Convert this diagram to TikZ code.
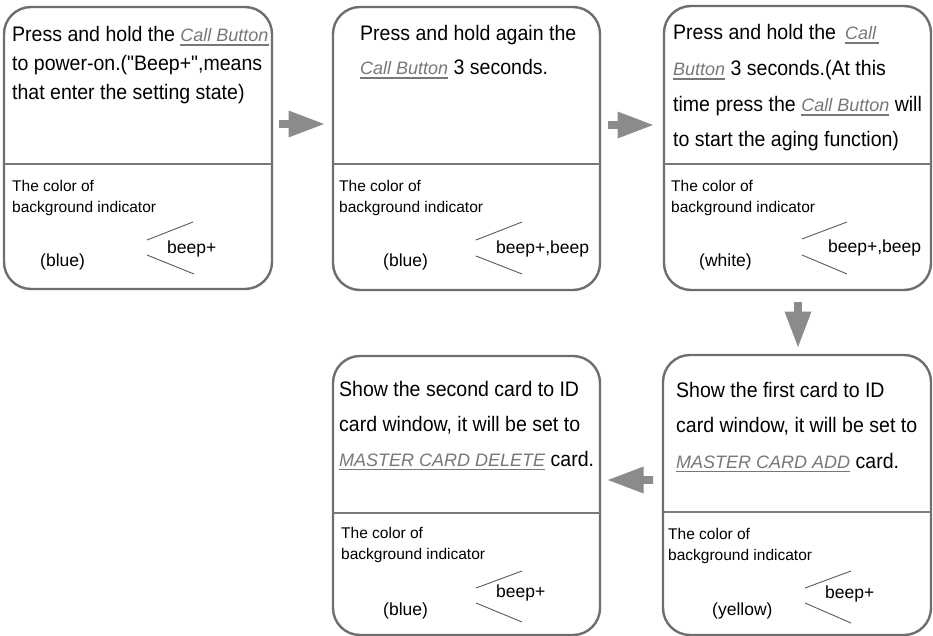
\documentclass[tikz,border=0pt]{standalone}
\usepackage{fontspec}
\setmainfont{Liberation Sans}
\newfontfamily\condfont{Liberation Sans}[FakeStretch=0.93]
\newfontfamily\itfont{Liberation Sans}
\definecolor{bordergray}{HTML}{6E6E6E}
\definecolor{dividergray}{HTML}{7A7A7A}
\definecolor{chevgray}{HTML}{5A5A5A}
\definecolor{arrowgray}{HTML}{8B8B8B}
\definecolor{italgray}{HTML}{777777}
\newcommand\cb[1]{{\color{italgray}\itfont\itshape\fontsize{18}{22}\selectfont\setbox0\hbox{#1}\rlap{\rule[-3.6pt]{\wd0}{1.1pt}}\box0}}
\tikzset{
  box/.style={draw=bordergray, line width=2.4pt, rounded corners=27pt, inner sep=0pt, outer sep=0pt},
  divider/.style={draw=dividergray, line width=1.6pt},
  chev/.style={draw=chevgray, line width=0.9pt},
  maintext/.style={anchor=base west, inner sep=0pt, font=\condfont\fontsize{21}{25}\selectfont},
  smalltext/.style={anchor=base west, inner sep=0pt, font=\fontsize{15.5}{19}\selectfont},
  midtext/.style={anchor=base west, inner sep=0pt, font=\fontsize{17.5}{21}\selectfont},
  barrow/.pic={\fill[arrowgray] (0,-3.8) -- (9.5,-3.8) -- (9.5,-13.5) -- (45,0) -- (9.5,13.5) -- (9.5,3.8) -- (0,3.8) -- cycle;}
}
\begin{document}
\begin{tikzpicture}[x=1pt,y=-1pt]
\useasboundingbox (0,0) rectangle (933,636);
% boxes
\node[box, minimum width=268pt, minimum height=282pt] (b1) at (138,148) {};
\node[box, minimum width=267pt, minimum height=283pt] (b2) at (466.5,148.5) {};
\node[box, minimum width=267pt, minimum height=284pt] (b3) at (797.5,148) {};
\node[box, minimum width=267pt, minimum height=279pt] (b4) at (466.5,495.5) {};
\node[box, minimum width=268pt, minimum height=280pt] (b5) at (797,495) {};
% dividers
\draw[divider] (b1.west |- 0,164) -- (b1.east |- 0,164);
\draw[divider] (b2.west |- 0,164) -- (b2.east |- 0,164);
\draw[divider] (b3.west |- 0,164) -- (b3.east |- 0,164);
\draw[divider] (b4.west |- 0,513) -- (b4.east |- 0,513);
\draw[divider] (b5.west |- 0,512) -- (b5.east |- 0,512);
% box 1 text
\node[maintext] (t1a) at (12,42) {Press and hold the \cb{Call Button}};
\node[maintext] (t1b) at (12,71) {to power-on.("Beep+",means};
\node[maintext] (t1c) at (12,100) {that enter the setting state)};
\node[smalltext] (s1a) at (12,192) {The color of};
\node[smalltext] (s1b) at (12,213) {background indicator};
\node[midtext] (c1) at (40,266) {(blue)};
\node[midtext] (p1) at (167,253) {beep+};
\draw[chev] (147,240) -- (193,222);
\draw[chev] (147,255) -- (194,274);
% box 2 text
\node[maintext] (t2a) at (360,41) {Press and hold again the};
\node[maintext] (t2b) at (360,75) {\cb{Call Button} 3 seconds.};
\node[smalltext] (s2a) at (339,192) {The color of};
\node[smalltext] (s2b) at (339,213) {background indicator};
\node[midtext] (c2) at (383,266) {(blue)};
\node[midtext] (p2) at (496,253) {beep+,beep};
\draw[chev] (476,240) -- (522,222);
\draw[chev] (476,256) -- (522,274);
% box 3 text
\node[maintext] (t3a) at (673,40) {Press and hold the\hspace{9pt}\cb{Call\,}};
\node[maintext] (t3b) at (673,76) {\cb{Button} 3 seconds.(At this};
\node[maintext] (t3c) at (673,112) {time press the \cb{Call Button} will};
\node[maintext] (t3d) at (673,147) {to start the aging function)};
\node[smalltext] (s3a) at (671,192) {The color of};
\node[smalltext] (s3b) at (671,213) {background indicator};
\node[midtext] (c3) at (699,266) {(white)};
\node[midtext] (p3) at (828,252) {beep+,beep};
\draw[chev] (802,239) -- (847,222);
\draw[chev] (802,255) -- (847,274);
% box 4 text
\node[maintext] (t4a) at (339,396) {Show the second card to ID};
\node[maintext] (t4b) at (339,431) {card window, it will be set to};
\node[maintext] (t4c) at (339,466) {\cb{MASTER CARD DELETE} card.};
\node[smalltext] (s4a) at (341,538) {The color of};
\node[smalltext] (s4b) at (341,559) {background indicator};
\node[midtext] (c4) at (383,615) {(blue)};
\node[midtext] (p4) at (496,597) {beep+};
\draw[chev] (476,588) -- (522,571);
\draw[chev] (476,603) -- (522,622);
% box 5 text
\node[maintext] (t5a) at (676,397) {Show the first card to ID};
\node[maintext] (t5b) at (676,432) {card window, it will be set to};
\node[maintext] (t5c) at (676,468) {\cb{MASTER CARD ADD} card.};
\node[smalltext] (s5a) at (668,539) {The color of};
\node[smalltext] (s5b) at (668,560) {background indicator};
\node[midtext] (c5) at (712,615) {(yellow)};
\node[midtext] (p5) at (825,598) {beep+};
\draw[chev] (805,588) -- (851,571);
\draw[chev] (805,603) -- (851,623);
% arrows
\coordinate (a12) at (279,124);
\coordinate (a23) at (608,125);
\coordinate (a35) at (798,302);
\coordinate (a54) at (653,480);
\pic at (a12) {barrow};
\pic at (a23) {barrow};
\pic[rotate=-90] at (a35) {barrow};
\pic[rotate=180] at (a54) {barrow};
\end{tikzpicture}
\end{document}
